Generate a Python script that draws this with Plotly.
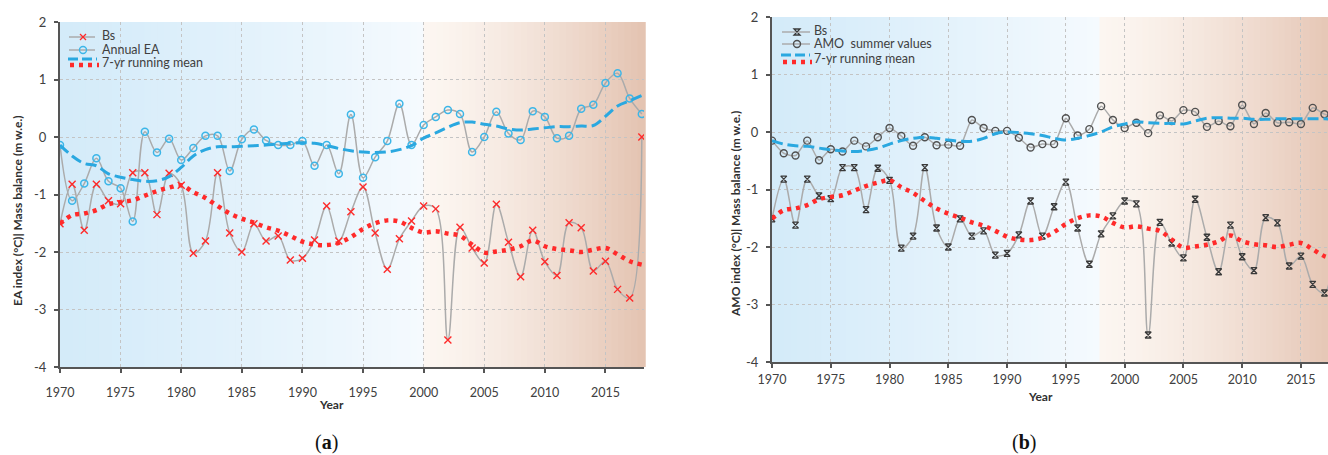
import plotly.graph_objects as go

# ---------------- data ----------------
years = list(range(1970, 2019))

bs = [-1.51, -0.82, -1.62, -0.82, -1.11, -1.16, -0.62, -0.62, -1.35, -0.63,
      -0.84, -2.02, -1.81, -0.62, -1.67, -2.00, -1.51, -1.81, -1.72, -2.14,
      -2.11, -1.79, -1.20, -1.81, -1.30, -0.87, -1.67, -2.30, -1.77, -1.46,
      -1.20, -1.25, -3.53, -1.57, -1.93, -2.19, -1.17, -1.83, -2.43, -1.62,
      -2.17, -2.41, -1.49, -1.58, -2.33, -2.16, -2.65, -2.80, 0.00]

bs_mean = [-1.51, -1.36, -1.33, -1.27, -1.17, -1.13, -1.10, -1.02, -0.94, -0.88,
           -0.84, -0.96, -1.06, -1.20, -1.33, -1.42, -1.49, -1.57, -1.63, -1.72,
           -1.82, -1.87, -1.88, -1.84, -1.74, -1.60, -1.50, -1.45, -1.47, -1.58,
           -1.66, -1.64, -1.68, -1.72, -1.87, -2.01, -1.99, -1.96, -1.90, -1.80,
           -1.90, -1.95, -1.97, -2.00, -1.96, -1.93, -2.04, -2.16, -2.22]

ea = [-0.14, -1.11, -0.81, -0.37, -0.77, -0.89, -1.47, 0.09, -0.27, -0.03,
      -0.40, -0.19, 0.02, 0.02, -0.59, -0.04, 0.13, -0.06, -0.14, -0.14,
      -0.07, -0.50, -0.14, -0.64, 0.39, -0.71, -0.35, -0.07, 0.58, -0.14,
      0.21, 0.35, 0.47, 0.40, -0.26, 0.00, 0.44, 0.06, -0.05, 0.45,
      0.35, -0.02, 0.02, 0.49, 0.56, 0.94, 1.11, 0.67, 0.40]

ea_mean = [-0.14, -0.33, -0.46, -0.50, -0.64, -0.70, -0.74, -0.77, -0.76, -0.69,
           -0.53, -0.33, -0.22, -0.17, -0.17, -0.16, -0.15, -0.14, -0.12, -0.11,
           -0.10, -0.11, -0.15, -0.20, -0.24, -0.26, -0.27, -0.26, -0.22, -0.15,
           -0.02, 0.07, 0.17, 0.25, 0.26, 0.22, 0.19, 0.14, 0.12, 0.14,
           0.16, 0.18, 0.18, 0.19, 0.20, 0.36, 0.54, 0.63, 0.72]

amo = [-0.15, -0.37, -0.41, -0.15, -0.49, -0.30, -0.34, -0.15, -0.25, -0.09,
       0.07, -0.07, -0.24, -0.09, -0.23, -0.22, -0.24, 0.21, 0.07, 0.02,
       0.02, -0.10, -0.27, -0.21, -0.21, 0.24, -0.06, 0.05, 0.45, 0.21,
       0.07, 0.16, -0.02, 0.29, 0.19, 0.38, 0.35, 0.09, 0.19, 0.10,
       0.47, 0.14, 0.33, 0.16, 0.17, 0.14, 0.42, 0.31, 0.25]

amo_mean = [-0.15, -0.21, -0.24, -0.25, -0.28, -0.31, -0.33, -0.34, -0.32, -0.28,
            -0.21, -0.15, -0.11, -0.09, -0.11, -0.14, -0.16, -0.16, -0.11, -0.03,
            0.00, -0.01, -0.03, -0.06, -0.11, -0.14, -0.11, -0.06, 0.00, 0.09,
            0.14, 0.18, 0.16, 0.15, 0.15, 0.14, 0.19, 0.24, 0.25, 0.24,
            0.24, 0.22, 0.22, 0.23, 0.23, 0.23, 0.23, 0.23, 0.22]

y_ticks = [-4, -3, -2, -1, 0, 1, 2]
x_ticks = list(range(1970, 2020, 5))

# ---------------- style ----------------
W, H = 1328, 455
GRAY = "#ababab"
RED = "#ff2a2a"
BLUE = "#2aa8e0"
EABLUE = "#3cb6e8"
DARK = "#3a3a3a"
TXT = "#404040"
FONT = "Lato"
DOTS = "4px,5px"


def px(x, y):
    return x / W, 1 - y / H


fig = go.Figure()

# panel (a)
fig.add_trace(go.Scatter(x=years, y=bs, mode="lines+markers", xaxis="x", yaxis="y",
                         line=dict(color=GRAY, width=1.5, shape="spline", smoothing=1),
                         marker=dict(symbol="x-thin-open", size=7, color=RED,
                                     line=dict(color=RED, width=1.4)),
                         name="Bs", showlegend=False))
fig.add_trace(go.Scatter(x=years, y=ea, mode="lines+markers", xaxis="x", yaxis="y",
                         line=dict(color=GRAY, width=1.5, shape="spline", smoothing=1),
                         marker=dict(symbol="circle-open", size=7, color=EABLUE,
                                     line=dict(color=EABLUE, width=1.5)),
                         name="Annual EA", showlegend=False))
fig.add_trace(go.Scatter(x=years, y=ea_mean, mode="lines", xaxis="x", yaxis="y",
                         line=dict(color=BLUE, width=3, dash="11px,5px", shape="spline"),
                         name="7-yr running mean", showlegend=False))
fig.add_trace(go.Scatter(x=years, y=bs_mean, mode="lines", xaxis="x", yaxis="y",
                         line=dict(color=RED, width=4.5, dash=DOTS, shape="spline"),
                         name="7-yr running mean (Bs)", showlegend=False))

# panel (b)
fig.add_trace(go.Scatter(x=years, y=bs, mode="lines+markers", xaxis="x2", yaxis="y2",
                         line=dict(color=GRAY, width=1.5, shape="spline", smoothing=1),
                         marker=dict(symbol="hourglass-open", size=6, color=DARK,
                                     line=dict(color=DARK, width=1.3)),
                         name="Bs", showlegend=False))
fig.add_trace(go.Scatter(x=years, y=amo, mode="lines+markers", xaxis="x2", yaxis="y2",
                         line=dict(color=GRAY, width=1.5, shape="spline", smoothing=0.6),
                         marker=dict(symbol="circle-open", size=7, color="#505050",
                                     line=dict(color="#505050", width=1.4)),
                         name="AMO summer values", showlegend=False))
fig.add_trace(go.Scatter(x=years, y=amo_mean, mode="lines", xaxis="x2", yaxis="y2",
                         line=dict(color=BLUE, width=3, dash="11px,5px", shape="spline"),
                         name="7-yr running mean", showlegend=False))
fig.add_trace(go.Scatter(x=years, y=bs_mean, mode="lines", xaxis="x2", yaxis="y2",
                         line=dict(color=RED, width=4.5, dash=DOTS, shape="spline"),
                         name="7-yr running mean (Bs)", showlegend=False))

# ---------------- background gradients ----------------
shapes = []


def lerp(c0, c1, t):
    return tuple(int(round(a + (b - a) * t)) for a, b in zip(c0, c1))


def grad(f, split, left0, left1, right0, right1):
    if f < split:
        t = f / split
        return lerp(left0, left1, t ** 1.2)
    t = (f - split) / (1 - split)
    return lerp(right0, right1, t ** 1.4)


N = 90
for xref, yref, split, rend in [("x domain", "y domain", 0.62, (228, 195, 177)),
                                ("x2 domain", "y2 domain", 0.586, (230, 199, 182))]:
    for i in range(N):
        f = (i + 0.5) / N
        c = grad(f, split, (212, 235, 249), (245, 250, 254), (252, 246, 241), rend)
        shapes.append(dict(type="rect", xref=xref, yref=yref, x0=i / N, x1=(i + 1) / N + 0.003,
                           y0=0, y1=1, line=dict(width=0), fillcolor="rgb(%d,%d,%d)" % c,
                           layer="below"))

# ---------------- manual legends ----------------
def seg(x0, y0, x1, y1, color, width, dash="solid"):
    a = px(x0, y0)
    b = px(x1, y1)
    shapes.append(dict(type="line", xref="paper", yref="paper", x0=a[0], y0=a[1],
                       x1=b[0], y1=b[1], line=dict(color=color, width=width, dash=dash),
                       layer="above"))


def circ(cx, cy, r, color):
    a = px(cx - r, cy + r)
    b = px(cx + r, cy - r)
    shapes.append(dict(type="circle", xref="paper", yref="paper", x0=a[0], y0=a[1],
                       x1=b[0], y1=b[1], line=dict(color=color, width=1.4), layer="above"))


annotations = []


def text(x, y, s, size=12, anchor="left", angle=0, family=FONT, color=TXT):
    p = px(x, y)
    annotations.append(dict(x=p[0], y=p[1], xref="paper", yref="paper", text=s,
                            showarrow=False, xanchor=anchor, yanchor="middle",
                            textangle=angle, borderpad=0,
                            font=dict(family=family, size=size, color=color)))


LEG = 12.5
# legend (a)
seg(69, 37, 95, 37, GRAY, 1.5)
seg(80, 34, 86, 40, RED, 1.3)
seg(80, 40, 86, 34, RED, 1.3)
seg(69, 50, 95, 50, GRAY, 1.5)
circ(83, 50, 3.5, EABLUE)
seg(68, 59, 97, 59, BLUE, 3, "10px,4px")
seg(70, 65, 99, 65, RED, 4.5, DOTS)
text(101, 36, "Bs", size=LEG)
text(101, 49, "Annual EA", size=LEG)
text(101, 63, "7-yr running mean", size=LEG)

# legend (b)
seg(782, 32, 810, 32, GRAY, 1.5)
p1 = px(794, 29)
p2 = px(800, 35)
shapes.append(dict(type="path", xref="paper", yref="paper",
                   path="M %f,%f L %f,%f L %f,%f L %f,%f Z" % (p1[0], p1[1], p2[0], p1[1],
                                                              p1[0], p2[1], p2[0], p2[1]),
                   line=dict(color=DARK, width=1.3), layer="above"))
seg(782, 44, 810, 44, GRAY, 1.5)
circ(797, 44, 3.5, "#505050")
seg(781, 55, 810, 55, BLUE, 3, "10px,4px")
seg(783, 62, 812, 62, RED, 4.5, DOTS)
text(813, 31, "Bs", size=LEG)
text(813, 44, "AMO  summer values", size=LEG)
text(813, 59, "7-yr running mean", size=LEG)

# axis titles and panel labels
TITLE = "#303030"
text(17, 211, "<b>EA index (°C)| Mass balance (m w.e.)</b>", size=12, anchor="center",
     angle=-90, color=TITLE)
text(735, 214, "<b>AMO index (°C)| Mass balance (m w.e.)</b>", size=12, anchor="center",
     angle=-90, color=TITLE)
text(331, 404, "<b>Year</b>", size=12, anchor="center", color=TITLE)
text(1040, 396, "<b>Year</b>", size=12, anchor="center", color=TITLE)
text(326, 442, "(<b>a</b>)", size=20, anchor="center", family="Liberation Serif", color="#111111")
text(1024, 442, "(<b>b</b>)", size=20, anchor="center", family="Liberation Serif", color="#111111")

# ---------------- axes ----------------
xa_common = dict(tickmode="array", tickvals=x_ticks, ticktext=[str(v) for v in x_ticks],
                 showline=True, linecolor="#555555", linewidth=2, ticks="outside", ticklen=4,
                 tickwidth=1.5, tickcolor="#555555", showgrid=True, gridcolor="#c4c4c4",
                 griddash="dot", gridwidth=1, zeroline=False, automargin=False,
                 tickfont=dict(family=FONT, size=12.5, color=TXT))
ya_common = dict(tickmode="array", tickvals=y_ticks, ticktext=[str(v) for v in y_ticks],
                 range=[-4, 2], showline=True, linecolor="#555555", linewidth=2,
                 ticks="outside", ticklen=4, tickwidth=1.5, tickcolor="#555555",
                 showgrid=True, gridcolor="#c4c4c4", griddash="dot", gridwidth=1,
                 zeroline=False, automargin=False,
                 tickfont=dict(family=FONT, size=13, color=TXT),
                 ticklabelstandoff=5)

fig.update_layout(
    width=W, height=H,
    margin=dict(l=0, r=0, t=0, b=0, autoexpand=False),
    paper_bgcolor="white", plot_bgcolor="rgba(0,0,0,0)",
    showlegend=False,
    xaxis=dict(domain=[60 / W, 644 / W], range=[1970, 2018.18], anchor="y",
               ticklabelstandoff=9, **xa_common),
    yaxis=dict(domain=[1 - 367 / H, 1 - 22 / H], anchor="x", **ya_common),
    xaxis2=dict(domain=[772 / W, 1.0], range=[1970, 2017.30], anchor="y2",
                ticklabelstandoff=1, **xa_common),
    yaxis2=dict(domain=[1 - 362 / H, 1 - 17 / H], anchor="x2", **ya_common),
    shapes=shapes,
    annotations=annotations,
)

fig.write_html("out.html", config={"displayModeBar": False},
               post_script="document.body.style.margin='0px';document.body.style.padding='0px';"
                           "document.body.style.overflow='hidden';")
